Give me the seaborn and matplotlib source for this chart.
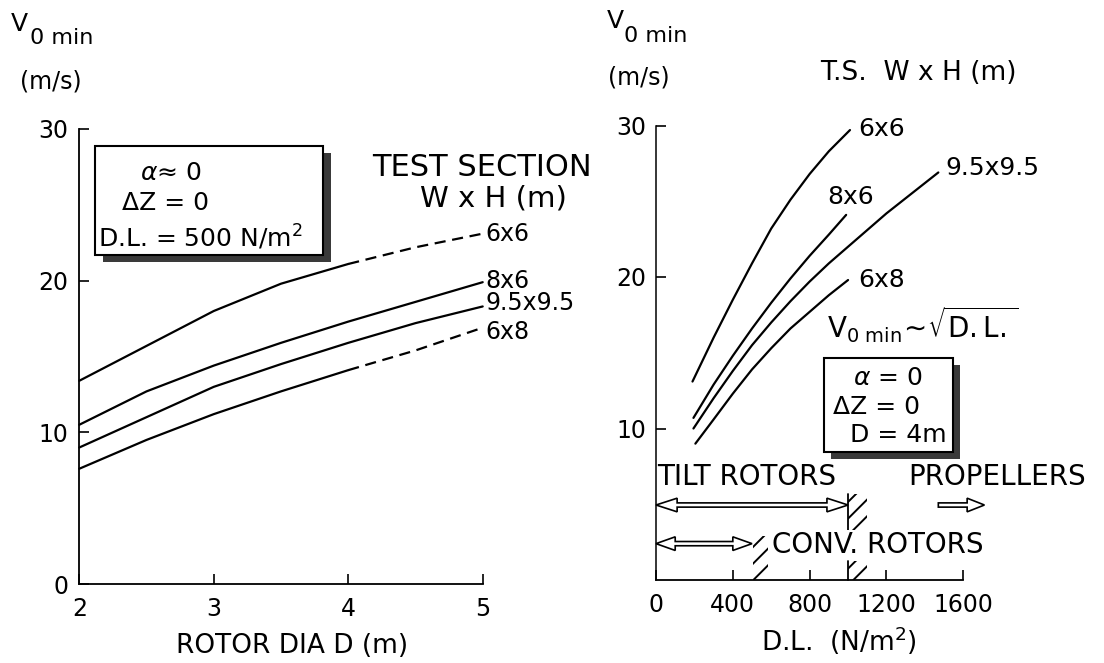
import matplotlib
matplotlib.use("Agg")
import matplotlib.pyplot as plt
import numpy as np
import pandas as pd
import seaborn as sns
from matplotlib.patches import Rectangle, Polygon

# ---------------- data ----------------
# Left panel: V0min vs rotor diameter, D.L. = 500 N/m^2
rotor_dia = [2.0, 2.5, 3.0, 3.5, 4.0, 4.5, 5.0]
left_6x6 = [13.4, 15.7, 18.0, 19.8, 21.1, 22.2, 23.1]
left_8x6 = [10.5, 12.7, 14.4, 15.9, 17.3, 18.6, 19.9]
left_95x95 = [9.0, 11.0, 13.0, 14.5, 15.9, 17.2, 18.3]
left_6x8 = [7.6, 9.5, 11.2, 12.7, 14.1, 15.4, 16.9]
left_dash_from = {"6x6": 4.0, "8x6": None, "9.5x9.5": None, "6x8": 4.0}

# Right panel: V0min vs disc loading, D = 4 m
dl_6x6 = [190, 300, 400, 500, 600, 700, 800, 900, 1010]
v_6x6 = [13.1, 16.0, 18.5, 20.9, 23.2, 25.1, 26.8, 28.3, 29.7]
dl_8x6 = [195, 300, 400, 500, 600, 700, 800, 900, 990]
v_8x6 = [10.7, 12.9, 14.8, 16.6, 18.3, 19.9, 21.4, 22.8, 24.1]
dl_95x95 = [195, 300, 400, 500, 600, 700, 800, 900, 1000, 1100, 1200, 1300, 1400, 1470]
v_95x95 = [10.0, 12.0, 13.8, 15.5, 17.0, 18.4, 19.7, 20.9, 22.0, 23.1, 24.2, 25.2, 26.2, 26.9]
dl_6x8 = [205, 300, 400, 500, 600, 700, 800, 900, 1000]
v_6x8 = [9.0, 10.6, 12.3, 13.9, 15.3, 16.6, 17.7, 18.8, 19.8]

sections = ["6x6", "8x6", "9.5x9.5", "6x8"]

left_xticks = [2, 3, 4, 5]
left_yticks = [0, 10, 20, 30]
right_xticks = [0, 400, 800, 1200, 1600]
right_yticks = [10, 20, 30]

# rotor-type ranges (D.L., N/m^2)
tilt_range = [0, 1000]
conv_range = [0, 500]
prop_range = [1470, 1710]

# ---------------- styling ----------------
sns.set_style("ticks")
plt.rcParams["font.family"] = ["DejaVu Sans"]
plt.rcParams["mathtext.fontset"] = "dejavusans"
plt.rcParams["hatch.linewidth"] = 1.4
for k in ["text.color", "axes.labelcolor", "xtick.color", "ytick.color",
          "axes.edgecolor", "hatch.color"]:
    plt.rcParams[k] = "black"

W, H = 1104, 663
fig = plt.figure(figsize=(W / 100, H / 100), dpi=100)


def fp(px, py):
    return px / W, 1 - py / H


axL = fig.add_axes([79.3 / W, 1 - 584 / H, 403.4 / W, 455 / H])
axR = fig.add_axes([656 / W, 1 - 580 / H, 307.3 / W, 454.5 / H])

LW = 1.6

# ---------------- left panel ----------------
left_df = pd.DataFrame({
    "D": rotor_dia * 4,
    "V": left_6x6 + left_8x6 + left_95x95 + left_6x8,
    "section": sum([[s] * len(rotor_dia) for s in sections], []),
})
left_label_dy = {"6x6": 0.0, "8x6": 0.1, "9.5x9.5": 0.2, "6x8": -0.3}
for s in sections:
    sub = left_df[left_df["section"] == s]
    cut = left_dash_from[s]
    if cut is None:
        sns.lineplot(data=sub, x="D", y="V", ax=axL, color="black", lw=LW,
                     estimator=None, sort=False, clip_on=False)
    else:
        solid = sub[sub["D"] <= cut]
        dashed = sub[sub["D"] >= cut]
        sns.lineplot(data=solid, x="D", y="V", ax=axL, color="black", lw=LW,
                     estimator=None, sort=False, clip_on=False)
        sns.lineplot(data=dashed, x="D", y="V", ax=axL, color="black", lw=LW,
                     linestyle=(0, (5, 3)), estimator=None, sort=False, clip_on=False)
    axL.text(5.02, sub["V"].iloc[-1] + left_label_dy[s], s, fontsize=17,
             ha="left", va="center")

axL.set_xlim(2, 5)
axL.set_ylim(0, 30)
axL.set_xticks(left_xticks)
axL.set_yticks(left_yticks)
axL.set_xlabel("")
axL.set_ylabel("")
axL.tick_params(direction="in", length=7, width=1.2, labelsize=17)
axL.tick_params(axis="x", pad=9)
axL.tick_params(axis="y", pad=8)
for sp in ["top", "right"]:
    axL.spines[sp].set_visible(False)
for sp in ["left", "bottom"]:
    axL.spines[sp].set_linewidth(1.3)

# condition box (left)
bx0, bx1, by0, by1 = 2.117, 3.814, 21.7, 28.9
axL.add_patch(Rectangle((bx0 + 0.06, by0 - 0.5), bx1 - bx0, by1 - by0,
                        fc="#3a3a3a", ec="none", zorder=4, clip_on=False))
axL.add_patch(Rectangle((bx0, by0), bx1 - bx0, by1 - by0,
                        fc="white", ec="black", lw=1.5, zorder=5, clip_on=False))
fig.text(*fp(140, 173), r"$\alpha$" + "≈ 0", fontsize=18, ha="left", va="center", zorder=6)
fig.text(*fp(122, 203), "ΔZ = 0", fontsize=18, ha="left", va="center", zorder=6)
fig.text(*fp(98, 237), "D.L. = 500 N/m$^2$", fontsize=18, ha="left", va="center", zorder=6)

fig.text(*fp(482, 167), "TEST SECTION", fontsize=22, ha="center", va="center")
fig.text(*fp(493, 198), "W x H (m)", fontsize=21, ha="center", va="center")

fig.text(*fp(11, 24), "V", fontsize=18, ha="left", va="center")
fig.text(*fp(30, 38), "0 min", fontsize=16, ha="left", va="center")
fig.text(*fp(20, 82), "(m/s)", fontsize=17, ha="left", va="center")
fig.text(*fp(292, 646), "ROTOR DIA D (m)", fontsize=19, ha="center", va="center")

# ---------------- right panel ----------------
right_series = {
    "6x6": (dl_6x6, v_6x6),
    "8x6": (dl_8x6, v_8x6),
    "9.5x9.5": (dl_95x95, v_95x95),
    "6x8": (dl_6x8, v_6x8),
}
right_df = pd.concat([
    pd.DataFrame({"DL": d, "V": v, "section": s}) for s, (d, v) in right_series.items()
])
for s in sections:
    sub = right_df[right_df["section"] == s]
    sns.lineplot(data=sub, x="DL", y="V", ax=axR, color="black", lw=LW,
                 estimator=None, sort=False, clip_on=False)

right_label_pos = {"6x6": (1052, 29.8), "8x6": (891, 25.3),
                   "9.5x9.5": (1505, 27.2), "6x8": (1052, 19.8)}
for s, (lx, ly) in right_label_pos.items():
    axR.text(lx, ly, s, fontsize=18, ha="left", va="center")

axR.set_xlim(0, 1600)
axR.set_ylim(0, 30)
axR.set_xticks(right_xticks)
axR.set_yticks(right_yticks)
axR.set_xlabel("")
axR.set_ylabel("")
axR.tick_params(direction="in", length=7, width=1.2, labelsize=17)
axR.tick_params(axis="x", pad=9)
axR.tick_params(axis="y", pad=7)
for sp in ["top", "right"]:
    axR.spines[sp].set_visible(False)
axR.spines["left"].set_linewidth(1.1)
axR.spines["bottom"].set_linewidth(1.3)

# condition box (right)
rx0, rx1, ry0, ry1 = 877, 1548, 8.47, 14.63
axR.add_patch(Rectangle((rx0 + 36, ry0 - 0.46), rx1 - rx0, ry1 - ry0,
                        fc="#3a3a3a", ec="none", zorder=4, clip_on=False))
axR.add_patch(Rectangle((rx0, ry0), rx1 - rx0, ry1 - ry0,
                        fc="white", ec="black", lw=1.5, zorder=5, clip_on=False))
fig.text(*fp(853, 378), r"$\alpha$" + " = 0", fontsize=18, ha="left", va="center", zorder=6)
fig.text(*fp(833, 407), "ΔZ = 0", fontsize=18, ha="left", va="center", zorder=6)
fig.text(*fp(850, 435), "D = 4m", fontsize=18, ha="left", va="center", zorder=6)

fig.text(*fp(827, 325), r"$\mathregular{V_{0\ min}\!\sim\!\sqrt{D.L.}}$",
         fontsize=20, ha="left", va="center")


def hollow_arrow(ax, x0, x1, y, both=True, hs=0.14, hh=0.45, hl=110):
    if both:
        pts = [(x0, y), (x0 + hl, y + hh), (x0 + hl, y + hs), (x1 - hl, y + hs),
               (x1 - hl, y + hh), (x1, y), (x1 - hl, y - hh), (x1 - hl, y - hs),
               (x0 + hl, y - hs), (x0 + hl, y - hh)]
    else:
        pts = [(x0, y + hs), (x1 - hl, y + hs), (x1 - hl, y + hh), (x1, y),
               (x1 - hl, y - hh), (x1 - hl, y - hs), (x0, y - hs)]
    ax.add_patch(Polygon(pts, closed=True, fc="white", ec="black", lw=1.2,
                         clip_on=False, zorder=3))


hollow_arrow(axR, tilt_range[0], tilt_range[1], 4.95)
hollow_arrow(axR, conv_range[0], conv_range[1], 2.4, hl=100)
hollow_arrow(axR, prop_range[0], prop_range[1], 4.95, both=False, hl=90)

# hatched limits
for (hx, hy, hw, hhgt, edge) in [(1000, 3.3, 100, 2.4, True),
                                 (1000, 0.0, 100, 1.25, True),
                                 (505, 0.0, 80, 2.9, False)]:
    axR.add_patch(Rectangle((hx, hy), hw, hhgt, fill=False, hatch="//",
                            ec="black", lw=0, clip_on=False, zorder=2))
    if edge:
        axR.plot([hx, hx], [hy, hy + hhgt], color="black", lw=1.3, clip_on=False)

fig.text(*fp(657, 477), "TILT ROTORS", fontsize=20, ha="left", va="center")
fig.text(*fp(908, 477), "PROPELLERS", fontsize=20, ha="left", va="center")
fig.text(*fp(772, 545), "CONV. ROTORS", fontsize=20, ha="left", va="center",
         bbox=dict(fc="white", ec="none", pad=0.5))

fig.text(*fp(607, 21), "V", fontsize=18, ha="left", va="center")
fig.text(*fp(624, 36), "0 min", fontsize=16, ha="left", va="center")
fig.text(*fp(608, 78), "(m/s)", fontsize=17, ha="left", va="center")
fig.text(*fp(820, 73), "T.S.  W x H (m)", fontsize=19, ha="left", va="center")
fig.text(*fp(839, 641), "D.L.  (N/m$^2$)", fontsize=19, ha="center", va="center")

fig.savefig("out.png", dpi=100)
